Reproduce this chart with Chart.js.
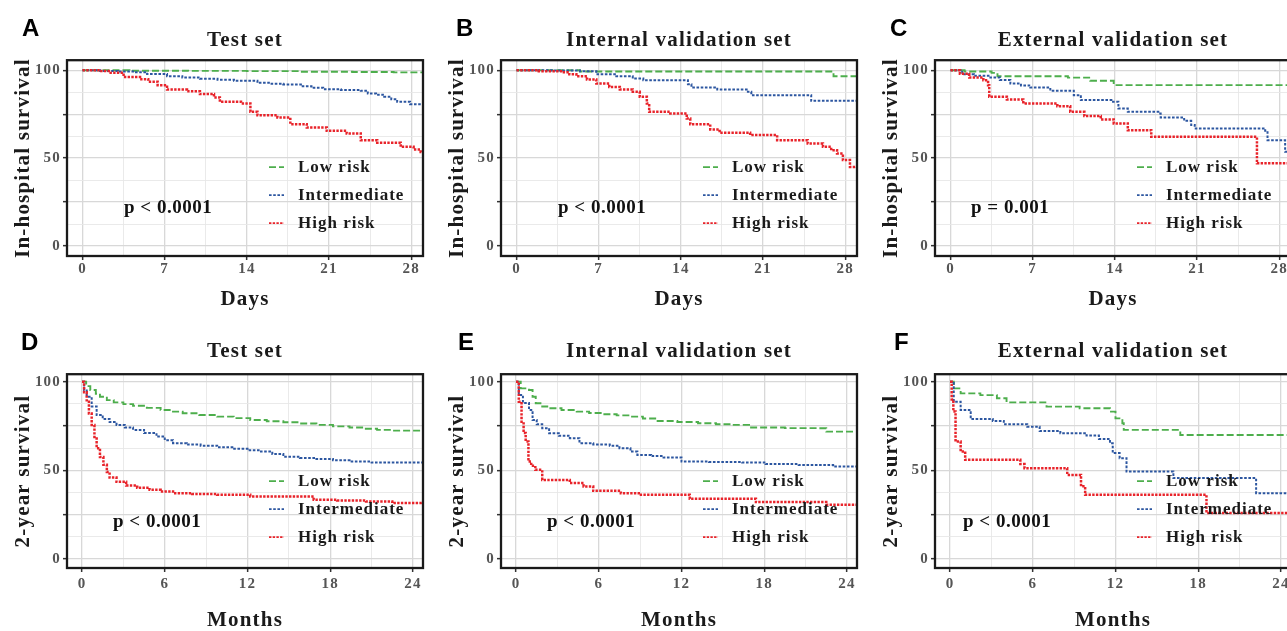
<!DOCTYPE html>
<html>
<head>
<meta charset="utf-8">
<script src="https://cdn.jsdelivr.net/npm/chart.js@4.4.1/dist/chart.umd.min.js"></script>
<style>
  html, body { margin: 0; padding: 0; background: #fff; width: 1287px; height: 631px; overflow: hidden; }
  .panel { position: absolute; }
</style>
</head>
<body>
<script>
// ---- axes ----
const dayLabels = [0, 7, 14, 21, 28];
const dayGrid = [0, 3.5, 7, 10.5, 14, 17.5, 21, 24.5, 28];
const monthLabels = [0, 6, 12, 18, 24];
const monthGrid = [0, 3, 6, 9, 12, 15, 18, 21, 24];
const survLabels = [0, 50, 100];
const survGrid = [0, 12.5, 25, 37.5, 50, 62.5, 75, 87.5, 100];
const groups = ['Low risk', 'Intermediate', 'High risk'];

// ---- A: test set, in-hospital ----
const aLowT = [0, 4, 9, 14, 18.5, 23, 26.5, 29];
const aLowS = [100, 99.7, 99.6, 99.5, 99.1, 99.0, 98.8, 98.8];
const aIntT = [0, 1.5, 3, 4.4, 5.5, 7.2, 8.5, 10, 11.5, 12.9, 14.9, 16, 17.1, 18.6, 19.5, 20.5, 22, 23.7, 24.3, 25, 25.7, 26.3, 26.8, 27.9, 29];
const aIntS = [100, 99.6, 99.2, 98.8, 97.8, 96.6, 95.8, 95.1, 94.6, 94.0, 92.8, 92.3, 91.9, 90.9, 90.0, 89.2, 88.8, 88.3, 86.7, 86.0, 84.9, 83.5, 82.0, 80.7, 80.7];
const aHighT = [0, 1.5, 2.4, 3.5, 4.9, 5.6, 6.4, 7.2, 8.9, 10, 11.2, 11.7, 13.5, 14.3, 14.9, 16.6, 17.7, 19.1, 20.8, 22.5, 23.7, 25.1, 27.1, 28.2, 28.8, 29];
const aHighS = [100, 99.5, 98.5, 96.2, 94.9, 93.5, 91.5, 89.0, 88.0, 86.4, 84.5, 82.0, 81.1, 76.3, 74.4, 73.1, 69.3, 67.4, 65.5, 64.0, 60.2, 58.7, 56.4, 54.9, 53.5, 53.0];

// ---- B: internal validation, in-hospital ----
const bLowT = [0, 5.4, 27, 29];
const bLowS = [100, 99.3, 96.6, 96.6];
const bIntT = [0, 3, 5.4, 6.8, 8.5, 9.9, 10.8, 14.6, 14.9, 17.1, 19.6, 20, 25.1, 29];
const bIntS = [100, 99.8, 99.4, 97.7, 96.6, 95.3, 94.3, 92.0, 90.1, 89.0, 87.7, 85.8, 82.6, 82.6];
const bHighT = [0, 1.9, 3.9, 4.5, 5.1, 6.0, 6.8, 7.9, 8.8, 9.9, 10.5, 11.1, 11.3, 13.1, 14.5, 14.8, 16.5, 17.3, 19.9, 22.2, 24.8, 26.1, 26.8, 27.3, 27.8, 28.4, 29];
const bHighS = [100, 99.4, 98.9, 97.7, 96.6, 94.7, 92.4, 90.5, 89.0, 87.7, 84.9, 81.1, 76.3, 75.4, 72.5, 69.3, 66.3, 64.4, 63.1, 60.2, 58.3, 56.4, 54.5, 52.6, 48.9, 45.0, 44.5];

// ---- C: external validation, in-hospital ----
const cLowT = [0, 1.2, 3.5, 4.0, 10, 11.9, 13.9, 29];
const cLowS = [100, 99.3, 98.5, 96.6, 95.8, 94.0, 91.5, 91.5];
const cIntT = [0, 1.0, 2.0, 3.4, 4.2, 5.1, 6.0, 6.8, 8.5, 10.5, 11.1, 13.7, 14.3, 15.1, 17.7, 17.9, 19.9, 20.5, 20.8, 26.8, 27.0, 28.5, 29];
const cIntS = [100, 97.7, 96.8, 95.8, 94.5, 92.4, 91.3, 90.1, 88.3, 85.8, 83.0, 82.0, 78.2, 76.3, 75.4, 73.1, 71.2, 68.8, 66.9, 65.5, 60.2, 53.6, 53.6];
const cHighT = [0, 0.8, 1.6, 2.8, 3.2, 3.3, 4.8, 6.2, 9.1, 10.2, 11.4, 12.8, 13.9, 15.1, 17.1, 26.1, 29];
const cHighS = [100, 98.0, 95.8, 94.3, 91.5, 84.9, 83.3, 81.1, 79.5, 76.3, 73.9, 72.0, 69.7, 65.9, 62.1, 47.0, 47.0];

// ---- D: test set, 2-year ----
const dLowT = [0, 0.3, 0.6, 1.0, 1.3, 1.8, 2.3, 3.0, 3.7, 4.7, 5.7, 6.5, 7.3, 8.5, 9.8, 11, 12.2, 13.4, 14.6, 15.8, 17, 18.2, 19.4, 20.4, 21.4, 22.5, 24.7];
const dLowS = [100, 97.5, 95.3, 93.2, 91.5, 89.6, 88.3, 87.3, 86.4, 85.2, 84.0, 83.1, 82.2, 81.2, 80.3, 79.4, 78.4, 77.7, 77.1, 76.4, 75.6, 74.8, 74.1, 73.4, 72.8, 72.4, 72.4];
const dIntT = [0, 0.15, 0.34, 0.7, 1.06, 1.5, 2.0, 2.5, 3.1, 3.7, 4.5, 5.4, 6.0, 6.6, 7.6, 8.6, 9.8, 10.9, 12, 12.9, 13.8, 14.6, 15.8, 17, 18.2, 19.4, 21, 24.7];
const dIntS = [100, 95.0, 91.5, 86.0, 81.2, 79.0, 77.2, 75.6, 74.2, 72.8, 71.0, 69.0, 67.0, 65.3, 64.5, 63.9, 63.0, 62.1, 61.3, 60.6, 59.2, 57.7, 57.0, 56.4, 55.6, 54.9, 54.4, 54.2];
const dHighT = [0, 0.15, 0.34, 0.5, 0.7, 0.9, 1.06, 1.3, 1.55, 1.8, 2.0, 2.5, 3.2, 4.0, 4.9, 5.7, 6.6, 8, 9.8, 12.2, 16.5, 16.8, 18.5, 20.6, 22.5, 24.7];
const dHighS = [100, 94.0, 88.7, 82.0, 75.6, 68.0, 62.5, 57.5, 53.1, 49.0, 45.9, 43.5, 41.4, 40.2, 39.0, 38.0, 37.1, 36.6, 36.2, 35.2, 35.2, 33.4, 33.0, 32.4, 31.5, 31.0];

// ---- E: internal validation, 2-year ----
const eLowT = [0, 0.34, 0.94, 1.2, 1.43, 1.9, 2.4, 3.3, 4.4, 5.3, 6.3, 7.3, 8.3, 9.2, 10.2, 11.7, 13.2, 14.5, 15.7, 16.9, 19.5, 21.8, 22.5, 24.7];
const eLowS = [100, 96.2, 95.3, 91.5, 87.8, 86.0, 85.0, 84.0, 83.1, 82.3, 81.6, 81.0, 80.3, 79.2, 77.8, 77.2, 76.5, 76.0, 75.6, 74.1, 73.8, 73.7, 71.8, 71.8];
const eIntT = [0, 0.2, 0.5, 0.94, 1.2, 1.5, 1.9, 2.4, 3.1, 3.9, 4.6, 5.6, 6.8, 7.5, 8.3, 8.8, 9.8, 10.7, 12, 14, 16.4, 18.1, 20.5, 23, 24.7];
const eIntS = [100, 92.5, 88.0, 84.0, 78.4, 76.0, 73.7, 70.9, 69.5, 68.1, 65.3, 64.6, 63.9, 62.5, 60.6, 58.7, 58.0, 57.2, 54.9, 54.7, 54.4, 53.5, 53.0, 52.1, 52.0];
const eHighT = [0, 0.2, 0.4, 0.55, 0.7, 0.9, 1.1, 1.4, 1.9, 3.3, 3.9, 4.9, 5.6, 7.6, 8.9, 12.6, 17.4, 22.5, 24.7];
const eHighS = [100, 88.7, 77.4, 71.0, 66.2, 54.9, 52.5, 50.3, 44.6, 44.6, 42.8, 40.9, 38.4, 37.1, 36.2, 33.9, 32.1, 30.6, 30.5];

// ---- F: external validation, 2-year ----
const fLowT = [0, 0.27, 0.77, 2.2, 3.4, 4.1, 7.0, 9.4, 11.6, 12.0, 12.5, 12.6, 16.7, 24.7];
const fLowS = [100, 96.2, 93.4, 92.4, 90.6, 88.3, 85.9, 85.0, 83.1, 79.3, 76.5, 72.8, 69.9, 69.9];
const fIntT = [0, 0.27, 0.77, 1.5, 3.1, 3.9, 5.6, 6.5, 8.0, 9.9, 10.8, 11.6, 11.8, 12.3, 12.8, 16.2, 22.2, 24.7];
const fIntS = [100, 88.7, 84.0, 78.9, 77.8, 76.0, 74.6, 72.2, 70.9, 69.6, 67.7, 65.3, 59.7, 56.8, 49.3, 45.6, 37.1, 37.1];
const fHighT = [0, 0.12, 0.24, 0.4, 0.77, 1.1, 5.1, 5.4, 8.5, 9.5, 9.8, 18.6, 24.7];
const fHighS = [100, 90.0, 83.1, 66.2, 60.6, 55.9, 53.5, 51.2, 47.4, 41.0, 36.2, 25.9, 25.9];

// ---- layout ----
const colWidth = 434;
const rows = [
  { top: 0, h: 315, plotTop: 60, plotBottom: 256, yMin: -5.7, yMax: 105.7, xMin: -1.32, xMax: 29,
    titlePad: { top: 28, bottom: 7 }, tickPad: 0, xTitlePad: 3,
    yTitle: 'In-hospital survival', xTitle: 'Days', xLabels: dayLabels, xGrid: dayGrid },
  { top: 315, h: 318, plotTop: 59, plotBottom: 253, yMin: -5.1, yMax: 104.2, xMin: -1.09, xMax: 24.73,
    titlePad: { top: 24, bottom: 10 }, tickPad: 3, xTitlePad: 0,
    yTitle: '2-year survival', xTitle: 'Months', xLabels: monthLabels, xGrid: monthGrid }
];

const panels = [
  { letter: 'A', title: 'Test set', row: 0, col: 0, p: 'p < 0.0001', pX: 57, letterX: -45,
    series: [[aLowT, aLowS], [aIntT, aIntS], [aHighT, aHighS]] },
  { letter: 'B', title: 'Internal validation set', row: 0, col: 1, p: 'p < 0.0001', pX: 57, letterX: -45,
    series: [[bLowT, bLowS], [bIntT, bIntS], [bHighT, bHighS]] },
  { letter: 'C', title: 'External validation set', row: 0, col: 2, p: 'p = 0.001', pX: 36, letterX: -45,
    series: [[cLowT, cLowS], [cIntT, cIntS], [cHighT, cHighS]] },
  { letter: 'D', title: 'Test set', row: 1, col: 0, p: 'p < 0.0001', pX: 46, letterX: -46,
    series: [[dLowT, dLowS], [dIntT, dIntS], [dHighT, dHighS]] },
  { letter: 'E', title: 'Internal validation set', row: 1, col: 1, p: 'p < 0.0001', pX: 46, letterX: -43,
    series: [[eLowT, eLowS], [eIntT, eIntS], [eHighT, eHighS]] },
  { letter: 'F', title: 'External validation set', row: 1, col: 2, p: 'p < 0.0001', pX: 28, letterX: -41,
    series: [[fLowT, fLowS], [fIntT, fIntS], [fHighT, fHighS]] }
];

const lineStyles = [
  { color: '#4dae4c', dash: [7, 3], width: 1.9 },
  { color: '#2c56a0', dash: [2.6, 1.6], width: 2 },
  { color: '#e8232a', dash: [2.4, 1.3], width: 2.5 }
];

const serif = '"Liberation Serif", "Times New Roman", serif';
const tickFont = { family: serif, size: 15, weight: 'bold' };
const axisTitleFont = { family: serif, size: 21, weight: 'bold' };

// frame, panel letter, p-value and the in-plot legend
const panelNotes = {
  id: 'panelNotes',
  beforeDraw(chart) {
    chart.ctx.letterSpacing = '1.2px';
  },
  afterDraw(chart, args, opts) {
    const { ctx, chartArea: a } = chart;
    ctx.save();
    ctx.setLineDash([]);
    ctx.strokeStyle = '#1a1a1a';
    ctx.lineWidth = 2.3;
    ctx.strokeRect(a.left, a.top, a.right - a.left, a.bottom - a.top);

    ctx.letterSpacing = '0px';
    ctx.textAlign = 'left';
    ctx.textBaseline = 'middle';
    ctx.fillStyle = '#000';
    ctx.font = 'bold 24px "Liberation Sans", Arial, sans-serif';
    ctx.fillText(opts.letter, a.left + opts.letterX, a.top - 31);

    ctx.letterSpacing = '0.5px';
    ctx.font = 'bold 19px ' + serif;
    ctx.fillStyle = '#111';
    ctx.fillText(opts.p, a.left + opts.pX, a.top + 148);

    ctx.letterSpacing = '1px';
    ctx.font = 'bold 17px ' + serif;
    chart.data.datasets.forEach((ds, i) => {
      const y = a.top + 107 + i * 28;
      ctx.strokeStyle = ds.borderColor;
      ctx.lineWidth = 1.8;
      ctx.setLineDash(ds.borderDash);
      ctx.beginPath();
      ctx.moveTo(a.left + 202, y);
      ctx.lineTo(a.left + 217, y);
      ctx.stroke();
      ctx.fillStyle = '#1a1a1a';
      ctx.fillText(ds.label, a.left + 231, y);
    });
    ctx.restore();
  }
};

panels.forEach(p => {
  const r = rows[p.row];
  const box = document.createElement('div');
  box.className = 'panel';
  box.style.left = (p.col * colWidth) + 'px';
  box.style.top = r.top + 'px';
  const canvas = document.createElement('canvas');
  canvas.width = colWidth;
  canvas.height = r.h;
  canvas.style.width = colWidth + 'px';
  canvas.style.height = r.h + 'px';
  box.appendChild(canvas);
  document.body.appendChild(box);

  const datasets = p.series.map(([t, s], i) => ({
    label: groups[i],
    data: t.map((x, k) => ({ x: x, y: s[k] })),
    borderColor: lineStyles[i].color,
    borderDash: lineStyles[i].dash,
    borderWidth: lineStyles[i].width,
    stepped: true,
    pointRadius: 0,
    fill: false,
    order: 2 - i
  }));

  new Chart(canvas, {
    type: 'line',
    data: { datasets },
    options: {
      responsive: false,
      animation: false,
      layout: { padding: { left: 0, right: colWidth - 423, top: 0, bottom: 0 }, autoPadding: false },
      plugins: {
        legend: { display: false },
        tooltip: { enabled: false },
        title: {
          display: true,
          text: p.title,
          fullSize: false,
          color: '#1a1a1a',
          font: { family: serif, size: 21, weight: 'bold' },
          padding: r.titlePad
        },
        panelNotes: { letter: p.letter, letterX: p.letterX, p: p.p, pX: p.pX }
      },
      scales: {
        x: {
          type: 'linear',
          min: r.xMin,
          max: r.xMax,
          afterBuildTicks: axis => { axis.ticks = r.xGrid.map(v => ({ value: v })); },
          afterFit: scale => { scale.height = r.h - r.plotBottom; },
          ticks: {
            autoSkip: false,
            maxRotation: 0,
            padding: r.tickPad,
            color: '#555',
            font: tickFont,
            callback: v => r.xLabels.includes(v) ? String(v) : ''
          },
          grid: {
            color: c => r.xLabels.includes(c.tick.value) ? '#d8d8d8' : '#e8e8e8',
            lineWidth: c => r.xLabels.includes(c.tick.value) ? 1.3 : 0.9,
            tickLength: 4,
            tickWidth: 1.5,
            tickColor: c => r.xLabels.includes(c.tick.value) ? '#333' : 'rgba(0,0,0,0)'
          },
          border: { display: false },
          title: {
            display: true,
            text: r.xTitle,
            color: '#1a1a1a',
            font: axisTitleFont,
            padding: { top: 0, bottom: r.xTitlePad }
          }
        },
        y: {
          type: 'linear',
          min: r.yMin,
          max: r.yMax,
          afterBuildTicks: axis => { axis.ticks = survGrid.map(v => ({ value: v })); },
          afterFit: scale => { scale.width = 67; },
          ticks: {
            autoSkip: false,
            padding: 2,
            color: '#555',
            font: tickFont,
            callback: v => survLabels.includes(v) ? String(v) : ''
          },
          grid: {
            color: c => c.tick.value % 25 === 0 ? '#d8d8d8' : '#e8e8e8',
            lineWidth: c => c.tick.value % 25 === 0 ? 1.3 : 0.9,
            tickLength: 4,
            tickWidth: 1.5,
            tickColor: c => c.tick.value % 25 === 0 ? '#333' : 'rgba(0,0,0,0)'
          },
          border: { display: false },
          title: {
            display: true,
            text: r.yTitle,
            color: '#1a1a1a',
            font: axisTitleFont,
            padding: { top: 11, bottom: 0 }
          }
        }
      }
    },
    plugins: [panelNotes]
  });
});
</script>
</body>
</html>
